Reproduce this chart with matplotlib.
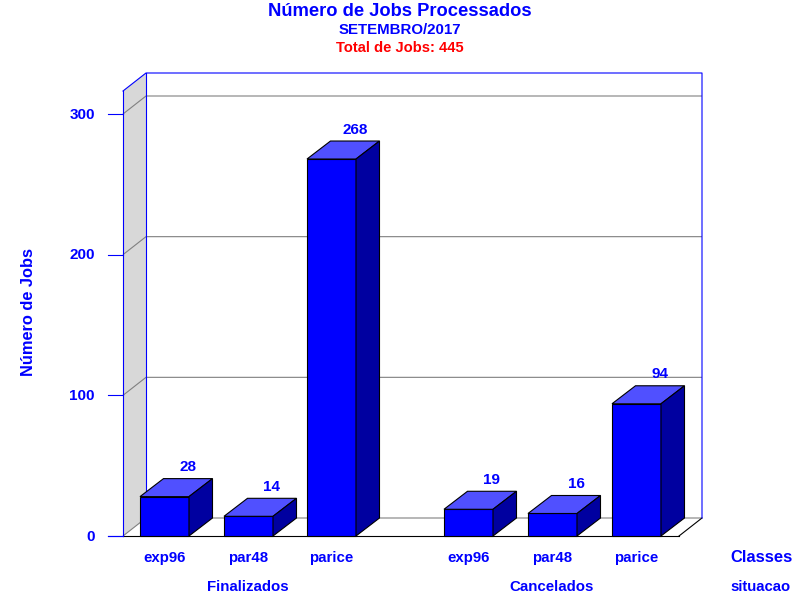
import matplotlib
matplotlib.use("Agg")
import matplotlib.pyplot as plt
from matplotlib.patches import Polygon

plt.rcParams['font.family'] = ['Liberation Sans', 'DejaVu Sans']

classes = ['exp96', 'par48', 'parice', 'exp96', 'par48', 'parice']
groups = ['Finalizados', 'Cancelados']
values = [28, 14, 268, 19, 16, 94]
yticks = [0, 100, 200, 300]

BLUE = '#0000FF'
TOP = '#5050FF'
SIDE = '#0000A0'
GREY = '#808080'

W, H = 800, 600
Y0 = 536
SC = 422 / 300
lefts = [140, 224, 307, 444, 528, 612]
BW = 49
DX = 23.5
WX = 23
DY = 18 / SC
FX0, FX1 = 123, 679
LW = 0.8

fig = plt.figure(figsize=(8, 6), dpi=100, facecolor='white')
ax = fig.add_axes([0, 0, 1, 1])
ax.set_xlim(0, W)
ax.set_ylim((Y0 - H) / SC, Y0 / SC)
ax.axis('off')

ytop = (Y0 - 73) / SC  # top of the back wall, in value units
ymax_front = ytop - DY

# left wall
ax.add_patch(Polygon([(FX0, 0), (FX0 + WX, DY), (FX0 + WX, ytop), (FX0, ymax_front)],
                     closed=True, fc='#D8D8D8', ec='none', zorder=1))

# gridlines
for t in yticks:
    ax.plot([FX0, FX0 + WX, FX1 + WX], [t, t + DY, t + DY], color=GREY, lw=LW, zorder=2,
            solid_capstyle='butt')
# floor
ax.plot([FX1, FX1 + WX], [0, DY], color='black', lw=LW, zorder=2)
ax.plot([108, FX0], [0, 0], color=BLUE, lw=LW, zorder=3)
ax.plot([FX0, FX1], [0, 0], color='black', lw=LW, zorder=3)

# walls frame
ax.plot([FX0, FX0], [0, ymax_front], color=BLUE, lw=LW, zorder=3)
ax.plot([FX0 + WX, FX0 + WX], [DY, ytop], color=BLUE, lw=LW, zorder=3)
ax.plot([FX0, FX0 + WX, FX1 + WX, FX1 + WX], [ymax_front, ytop, ytop, DY], color=BLUE, lw=LW, zorder=3)

# ticks
for t in yticks:
    ax.plot([108, FX0], [t, t], color=BLUE, lw=LW, zorder=3)
    ax.text(95, t - 0.5, str(t), color=BLUE, ha='right', va='center', fontsize=11, fontweight='bold')

# bars
for x, v, c in zip(lefts, values, classes):
    ax.bar(x, v, width=BW, align='edge', color=BLUE, edgecolor='black', linewidth=LW, zorder=5)
    ax.add_patch(Polygon([(x, v), (x + DX, v + DY), (x + BW + DX, v + DY), (x + BW, v)],
                         closed=True, fc=TOP, ec='black', lw=LW, zorder=5))
    ax.add_patch(Polygon([(x + BW, 0), (x + BW + DX, DY), (x + BW + DX, v + DY), (x + BW, v)],
                         closed=True, fc=SIDE, ec='black', lw=LW, zorder=5))
    ax.text(x + BW / 2 + DX, v + DY + 11.5 / SC, str(v), color=BLUE, ha='center', va='center',
            fontsize=11, fontweight='bold', zorder=6)
    ax.text(x + BW / 2, -14.5, c, color=BLUE, ha='center', va='center_baseline',
            fontsize=10.8, fontweight='bold')

for gx, g in zip([248, 552], groups):
    ax.text(gx, -35.5, g, color=BLUE, ha='center', va='center_baseline', fontsize=10.8, fontweight='bold')

ax.text(761.5, -14.5, 'Classes', color=BLUE, ha='center', va='center_baseline', fontsize=11.9, fontweight='bold')
ax.text(760.5, -35.5, 'situacao', color=BLUE, ha='center', va='center_baseline', fontsize=10.7, fontweight='bold')

ax.text(28.5, (Y0 - 312) / SC, 'Número de Jobs', color=BLUE, rotation=90, ha='center', va='center',
        fontsize=11.8, fontweight='bold')

fig.text(400 / W, 1 - 11.5 / H, 'Número de Jobs Processados', color=BLUE, ha='center', va='center',
         fontsize=13.2, fontweight='bold')
fig.text(400 / W, 1 - 30 / H, 'SETEMBRO/2017', color=BLUE, ha='center', va='center',
         fontsize=10.8, fontweight='bold')
fig.text(400 / W, 1 - 47.5 / H, 'Total de Jobs: 445', color='#FF0000', ha='center', va='center',
         fontsize=10.6, fontweight='bold')

fig.savefig('out.png', dpi=100)
